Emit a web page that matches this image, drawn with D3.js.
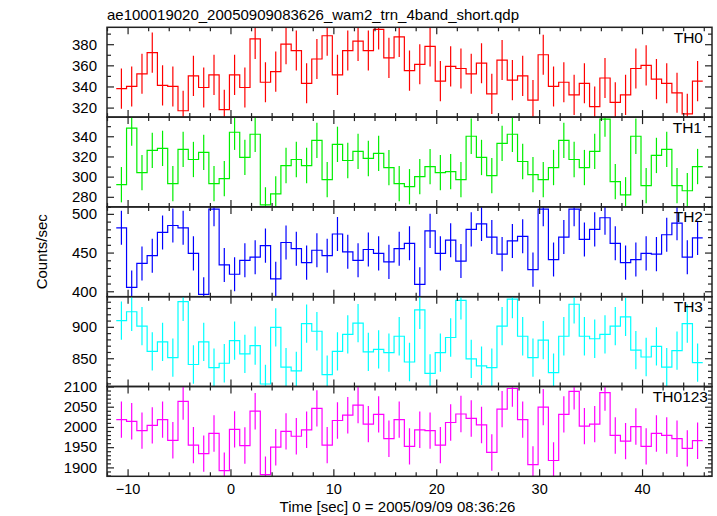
<!DOCTYPE html>
<html><head><meta charset="utf-8">
<script src="https://cdn.jsdelivr.net/npm/d3@7"></script>
<style>
body{margin:0;background:#fff;}
svg text{font-family:"Liberation Sans",Arial,Helvetica,sans-serif;}
</style></head>
<body><svg id="c" width="717" height="516"></svg>
<script>
const title = "ae100019020_20050909083626_wam2_trn_4band_short.qdp";
const xLabel = "Time [sec] 0 = 2005/09/09 08:36:26";
const yLabel = "Counts/sec";
const panelNames = ["TH0","TH1","TH2","TH3","TH0123"];
const panelColors = ["#ff0000","#00ee00","#0000ff","#00ffff","#ff00ff"];

// bin centres (s), 1 s bins
const times = [-10.6,-9.6,-8.6,-7.6,-6.6,-5.6,-4.6,-3.6,-2.6,-1.6,-0.6,0.4,1.4,2.4,3.4,4.4,5.4,6.4,7.4,8.4,
  9.4,10.4,11.4,12.4,13.4,14.4,15.4,16.4,17.4,18.4,19.4,20.4,21.4,22.4,23.4,24.4,25.4,26.4,27.4,28.4,
  29.4,30.4,31.4,32.4,33.4,34.4,35.4,36.4,37.4,38.4,39.4,40.4,41.4,42.4,43.4,44.4,45.4];

const th0 = [338,340,352,372,341,340,317,350,339,351,318,351,339,385,344,354,380,374,343,366,
  388,351,374,383,374,394,367,387,355,361,378,345,359,357,352,362,333,365,346,350,
  327,370,340,344,332,343,321,348,325,332,357,360,347,343,334,314,345];
const th1 = [292,348,304,326,328,293,327,317,324,293,298,344,319,342,272,283,311,317,311,336,
  297,332,316,325,318,323,309,293,290,300,310,304,305,297,340,319,301,333,342,315,
  302,297,309,336,317,309,325,357,295,282,340,291,321,327,291,286,310];
const th2 = [482,405,436,446,476,485,482,449,396,506,434,422,440,444,459,416,463,455,437,453,
  446,474,451,440,454,449,438,455,462,409,478,449,466,439,480,487,470,448,465,471,
  428,506,441,470,506,467,480,495,462,437,441,449,448,473,488,444,469];
const th3 = [910,924,901,861,876,851,940,840,876,835,842,878,857,870,809,899,836,830,905,893,
  824,861,888,906,860,864,859,885,844,927,826,859,883,942,849,838,835,901,944,885,
  851,879,827,885,936,885,881,888,901,916,863,852,869,836,862,905,843];
const th0123 = [2018,2014,1991,2004,2018,1967,2063,1955,1934,1984,1892,1994,1954,2039,1882,1950,1989,1977,1993,2046,
  1955,2016,2029,2054,2007,2031,1971,2018,1952,1993,1991,1955,2011,2032,2021,2005,1937,2044,2095,2018,
  1907,2049,1917,2031,2088,2002,2007,2085,1979,1965,2001,1952,1984,1979,1971,1947,1966];
const series = [th0, th1, th2, th3, th0123];
// approximate 1-sigma error half-lengths read per panel
const errs = [19, 17.5, 22, 30.5, 45];

const yDomains = [[311,396],[270,359],[393,509],[805,948],[1878,2100]];
const yMajorTicks = [[320,340,360,380],[280,300,320,340],[400,450,500],[850,900],[1900,1950,2000,2050,2100]];
const yMinorStep = 10;
const xMajorTicks = [-10,0,10,20,30,40];
const xMinorStep = 2;
const xDomain = [-12, 46.8];

const L = 107, R = 712, T = 27.3, PH = 89.8;
const svg = d3.select("#c");
const x = d3.scaleLinear().domain(xDomain).range([L, R]);
const xMinor = d3.range(-12, 47, xMinorStep).filter(v => v >= xDomain[0] && v <= xDomain[1] && !xMajorTicks.includes(v));
const frameCol = "#222";
const labelRight = [703, 702, 703, 703, 708];

svg.append("text").attr("x", 107).attr("y", 20).attr("font-size", 15).text(title);

series.forEach((vals, i) => {
  const top = T + i * PH, bot = top + PH;
  const y = d3.scaleLinear().domain(yDomains[i]).range([bot, top]);
  const g = svg.append("g");
  const cid = "clip" + i;
  svg.append("clipPath").attr("id", cid).append("rect")
    .attr("x", L).attr("y", top).attr("width", R - L).attr("height", PH);
  const dg = g.append("g").attr("clip-path", `url(#${cid})`);
  const col = panelColors[i];
  // step curve
  const pts = times.map((t, k) => [t - 0.5, vals[k]]);
  pts.push([times[times.length - 1] + 0.5, vals[vals.length - 1]]);
  dg.append("path").attr("d", d3.line().x(d => x(d[0])).y(d => y(d[1])).curve(d3.curveStepAfter)(pts))
    .attr("fill", "none").attr("stroke", col).attr("stroke-width", 1.2);
  // error bars
  dg.selectAll("line.err").data(times).join("line").attr("class", "err")
    .attr("x1", t => x(t)).attr("x2", t => x(t))
    .attr("y1", (t, k) => y(vals[k] - errs[i])).attr("y2", (t, k) => y(vals[k] + errs[i]))
    .attr("stroke", col).attr("stroke-width", 1.2);

  const yMin = d3.range(Math.ceil(yDomains[i][0] / yMinorStep) * yMinorStep, yDomains[i][1] + 0.01, yMinorStep)
    .filter(v => !yMajorTicks[i].includes(v));
  const styleAxis = a => { a.select(".domain").remove(); a.selectAll("line").attr("stroke", frameCol).attr("stroke-width", 1.2); };
  // left
  g.append("g").attr("transform", `translate(${L},0)`)
    .call(d3.axisLeft(y).tickValues(yMajorTicks[i]).tickSize(-7).tickPadding(10).tickFormat(d3.format("d")))
    .call(styleAxis).call(a => a.selectAll("text").attr("font-size", 15).attr("fill", "#000").attr("font-family", null));
  g.append("g").attr("transform", `translate(${L},0)`)
    .call(d3.axisLeft(y).tickValues(yMin).tickSize(-4).tickFormat("")).call(styleAxis);
  // right
  g.append("g").attr("transform", `translate(${R},0)`)
    .call(d3.axisRight(y).tickValues(yMajorTicks[i]).tickSize(-7).tickFormat("")).call(styleAxis);
  g.append("g").attr("transform", `translate(${R},0)`)
    .call(d3.axisRight(y).tickValues(yMin).tickSize(-4).tickFormat("")).call(styleAxis);
  // top
  g.append("g").attr("transform", `translate(0,${top})`)
    .call(d3.axisTop(x).tickValues(xMajorTicks).tickSize(-7).tickFormat("")).call(styleAxis);
  g.append("g").attr("transform", `translate(0,${top})`)
    .call(d3.axisTop(x).tickValues(xMinor).tickSize(-4).tickFormat("")).call(styleAxis);
  // bottom
  const bAx = g.append("g").attr("transform", `translate(0,${bot})`)
    .call(d3.axisBottom(x).tickValues(xMajorTicks).tickSize(-7).tickPadding(7)
      .tickFormat(i === series.length - 1 ? d3.format("d") : ""))
    .call(styleAxis);
  bAx.selectAll("text").attr("font-size", 14.5).attr("fill", "#000").attr("font-family", null);
  g.append("g").attr("transform", `translate(0,${bot})`)
    .call(d3.axisBottom(x).tickValues(xMinor).tickSize(-4).tickFormat("")).call(styleAxis);
  // frame
  g.append("rect").attr("x", L).attr("y", top).attr("width", R - L).attr("height", PH)
    .attr("fill", "none").attr("stroke", frameCol).attr("stroke-width", 1.5);
  // panel name
  g.append("text").attr("x", labelRight[i]).attr("y", top + 15.5).attr("text-anchor", "end")
    .attr("font-size", 15.5).text(panelNames[i]);
});

svg.append("text").attr("transform", `translate(47,${T + 2.5 * PH}) rotate(-90)`)
  .attr("text-anchor", "middle").attr("font-size", 15).text(yLabel);
svg.append("text").attr("x", 397.5).attr("y", 511.5).attr("text-anchor", "middle")
  .attr("font-size", 15).text(xLabel);
</script></body></html>
